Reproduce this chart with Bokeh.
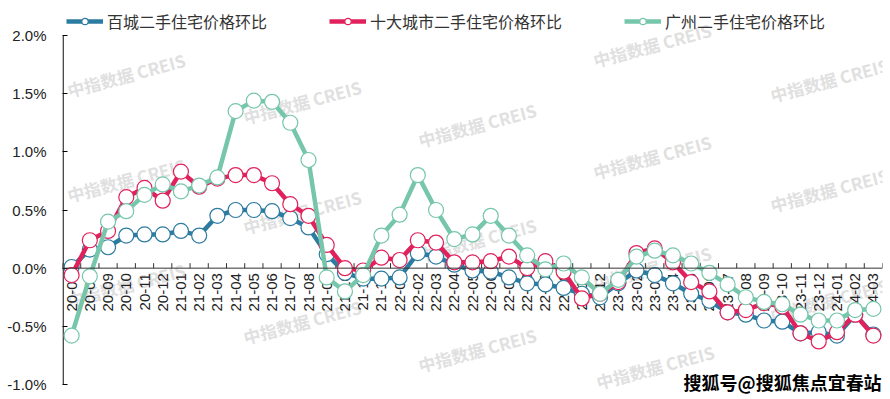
import math
from bokeh.plotting import figure
from bokeh.models import (Range1d, FixedTicker, PrintfTickFormatter,
                          Legend, LegendItem, Label, Span)
from bokeh.core.properties import value
from bokeh.embed import file_html
from bokeh.resources import INLINE

months = ["20-07", "20-08", "20-09", "20-10", "20-11", "20-12",
          "21-01", "21-02", "21-03", "21-04", "21-05", "21-06",
          "21-07", "21-08", "21-09", "21-10", "21-11", "21-12",
          "22-01", "22-02", "22-03", "22-04", "22-05", "22-06",
          "22-07", "22-08", "22-09", "22-10", "22-11", "22-12",
          "23-01", "23-02", "23-03", "23-04", "23-05", "23-06",
          "23-07", "23-08", "23-09", "23-10", "23-11", "23-12",
          "24-01", "24-02", "24-03"]

bai_cheng = [0.01, 0.16, 0.18, 0.28, 0.29, 0.29,
             0.32, 0.28, 0.45, 0.50, 0.50, 0.49,
             0.43, 0.35, 0.12, -0.04, -0.09, -0.09,
             -0.08, 0.13, 0.10, 0.03, -0.02, -0.03,
             -0.08, -0.13, -0.14, -0.17, -0.22, -0.25,
             -0.13, -0.02, -0.06, -0.13, -0.22, -0.28,
             -0.38, -0.40, -0.45, -0.46, -0.56, -0.55,
             -0.58, -0.40, -0.57]

shi_da = [-0.06, 0.24, 0.32, 0.61, 0.69, 0.58,
          0.83, 0.70, 0.77, 0.80, 0.80, 0.73,
          0.55, 0.45, 0.20, 0.00, -0.02, 0.09,
          0.07, 0.24, 0.22, 0.05, 0.05, 0.06,
          0.10, 0.00, 0.06, -0.03, -0.26, -0.22,
          -0.12, 0.13, 0.17, 0.05, -0.12, -0.20,
          -0.38, -0.36, -0.30, -0.33, -0.56, -0.63,
          -0.55, -0.40, -0.58]

guangzhou = [-0.58, -0.07, 0.40, 0.49, 0.63, 0.72,
             0.66, 0.71, 0.78, 1.35, 1.44, 1.43,
             1.25, 0.93, -0.08, -0.20, -0.06, 0.28,
             0.46, 0.80, 0.50, 0.25, 0.29, 0.45,
             0.28, 0.11, -0.01, 0.04, -0.08, -0.22,
             -0.10, 0.10, 0.15, 0.11, 0.04, -0.04,
             -0.14, -0.25, -0.29, -0.31, -0.40, -0.45,
             -0.45, -0.36, -0.35]

series_names = ["百城二手住宅价格环比", "十大城市二手住宅价格环比", "广州二手住宅价格环比"]
series_colors = ["#2C7BA0", "#E0215C", "#76C6AC"]
y_ticks = [-1.0, -0.5, 0.0, 0.5, 1.0, 1.5, 2.0]
watermark = "中指数据 CREIS"
credit = "搜狐号@搜狐焦点宜春站"

W, H = 890, 399
L, R = 62, 8
AX_TOP, AX_BOT = 35, 384          # pixel rows of the 2.0% and -1.0% ticks
FW = W - L - R
n = len(months)
xs = list(range(n))
y_span = y_ticks[-1] - y_ticks[0]
ppu = (AX_BOT - AX_TOP) / y_span   # pixels per percentage point
y_hi = y_ticks[-1] + AX_TOP / ppu
y_lo = y_ticks[0] - (H - AX_BOT) / ppu

p = figure(width=W, height=H, output_backend="svg", toolbar_location=None,
           x_range=Range1d(-0.5, n - 0.5),
           y_range=Range1d(y_lo, y_hi),
           x_axis_location=None,
           min_border_left=L, min_border_right=R, min_border_top=0, min_border_bottom=0)
p.outline_line_color = None
p.xgrid.visible = False
p.ygrid.visible = False
p.background_fill_color = "white"
p.border_fill_color = "white"

# y axis (line drawn only between -1.0% and 2.0%)
ya = p.yaxis[0]
ya.ticker = FixedTicker(ticks=y_ticks)
ya.formatter = PrintfTickFormatter(format="%.1f%%")
ya.major_tick_in = 5
ya.major_tick_out = 0
ya.minor_tick_line_color = None
ya.axis_line_color = None
ya.major_tick_line_color = "black"
ya.major_label_standoff = 16
ya.major_label_text_font = "Liberation Sans"
ya.major_label_text_font_size = "15px"
ya.major_label_text_color = "#222222"
x_edge = -0.5 + 0.6 / FW * n
p.segment(x0=[x_edge], y0=[y_ticks[0]], x1=[x_edge], y1=[y_ticks[-1]],
          line_color="black", line_width=1.2)

def to_x(px):
    return -0.5 + (px - L) / FW * n

def to_y(py):
    return y_hi - py / ppu

# watermarks (drawn first, beneath the series)
wm_px = [(67, 90), (67, 195), (67, 300),
         (243, 117), (243, 227), (243, 337),
         (418, 140), (418, 255), (418, 365),
         (593, 60), (593, 172), (593, 283), (596, 382),
         (770, 95), (770, 205), (770, 315)]
p.text(x=[to_x(a) for a, b in wm_px], y=[to_y(b) for a, b in wm_px],
       text=[watermark] * len(wm_px), angle=0.26,
       text_font=value("Noto Sans CJK SC"), text_font_style="bold",
       text_font_size="17px", text_color="#e0e0e0",
       text_baseline="alphabetic", text_align="left")

# x axis crossing at 0: line, ticks at category boundaries, rotated labels
p.add_layout(Span(location=0, dimension="width", line_color="#333333", line_width=1))
bounds = [i - 0.5 for i in range(n + 1)]
tick_h = 5 / ppu
p.segment(x0=bounds, y0=[0] * len(bounds), x1=bounds, y1=[tick_h] * len(bounds),
          line_color="#333333", line_width=1)
p.text(x=xs, y=[0] * n, text=months, angle=math.pi / 2, y_offset=5,
       text_align="right", text_baseline="middle",
       text_font=value("Liberation Sans"), text_font_size="15px", text_color="#222222")

items = []
for name, vals, col in zip(series_names, [bai_cheng, shi_da, guangzhou], series_colors):
    lr = p.line(xs, vals, line_color=col, line_width=4.5)
    sr = p.scatter(xs, vals, marker="circle", size=15, fill_color="white",
                   line_color=col, line_width=1.2)
    items.append(LegendItem(label=name, renderers=[lr, sr]))

legend = Legend(items=items, orientation="horizontal", location=(4, H - 33),
                glyph_width=37, glyph_height=16, label_standoff=4, spacing=62,
                margin=0, padding=5, border_line_color=None, background_fill_alpha=0,
                label_text_font="Noto Sans CJK SC", label_text_font_size="16px",
                label_text_color="#333333")
p.add_layout(legend)

p.add_layout(Label(x=to_x(683), y=to_y(381),
                   text=credit, text_font="Noto Sans CJK SC", text_font_style="bold",
                   text_font_size="18px", text_color="black",
                   text_baseline="middle", text_align="left"))

open("out.html", "w").write(file_html(p, INLINE))
